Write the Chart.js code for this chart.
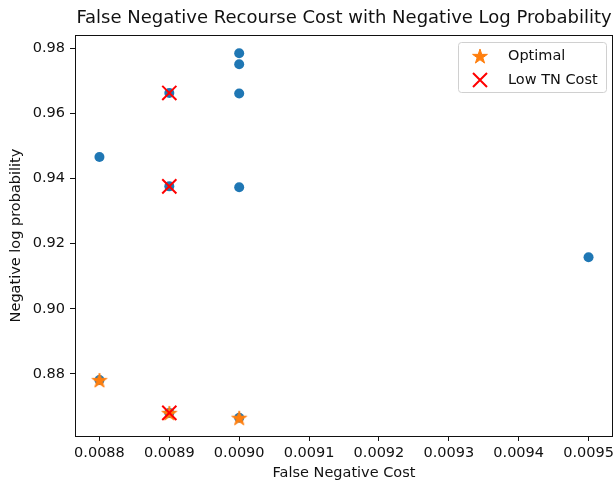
<!DOCTYPE html>
<html>
<head>
<meta charset="utf-8">
<script src="https://cdn.jsdelivr.net/npm/chart.js@4"></script>
<style>
html,body{margin:0;padding:0;background:#fff;}
#wrap{width:616px;height:481px;position:relative;}
</style>
</head>
<body>
<div id="wrap"><canvas id="c" width="616" height="481"></canvas></div>
<script>
// ---- data ----
const allCost = [0.0088, 0.0088, 0.0089, 0.0089, 0.0089, 0.0090, 0.0090, 0.0090, 0.0090, 0.0090, 0.0095];
const allNLP  = [0.9466, 0.8781, 0.9663, 0.9376, 0.8680, 0.9785, 0.9751, 0.9661, 0.9373, 0.8665, 0.9158];
const optimalCost = [0.0088, 0.0089, 0.0090];
const optimalNLP  = [0.8781, 0.8680, 0.8665];
const lowTNCost = [0.0089, 0.0089, 0.0089];
const lowTNNLP  = [0.9663, 0.9376, 0.8680];
const xTickStep = 0.0001;
const yTickStep = 0.02;
const titleText = "False Negative Recourse Cost with Negative Log Probability";
const xLabel = "False Negative Cost";
const yLabel = "Negative log probability";
const legendLabels = ["Optimal", "Low TN Cost"];

const BLUE = '#1f77b4', ORANGE = '#ff7f0e', RED = '#ff0000';
const FONT = "'DejaVu Sans', sans-serif";
const FS = 14.5;

function toPts(xs, ys){ return xs.map((x,i)=>({x:x, y:ys[i]})); }

function makeStar(r, color){
  const s = Math.ceil(r*2+2);
  const cv = document.createElement('canvas');
  cv.width = s; cv.height = s;
  const ctx = cv.getContext('2d');
  const cx = s/2, cy = s/2 + r*0.1, ri = r*0.381966;
  ctx.beginPath();
  for(let i=0;i<10;i++){
    const rr = i%2===0 ? r : ri;
    const a = -Math.PI/2 + i*Math.PI/5;
    const px = cx + rr*Math.cos(a), py = cy + rr*Math.sin(a);
    if(i===0) ctx.moveTo(px,py); else ctx.lineTo(px,py);
  }
  ctx.closePath();
  ctx.fillStyle = color; ctx.fill();
  ctx.strokeStyle = color; ctx.lineWidth = 1; ctx.lineJoin = 'round'; ctx.stroke();
  return cv;
}
const starImg = makeStar(7.8, ORANGE);

const xMin = 0.0088 - 0.000035, xMax = 0.0095 + 0.000035;
const yLo = Math.min(...allNLP), yHi = Math.max(...allNLP);
const yPad = (yHi - yLo)*0.05;

function zeroPad(s){
  s.paddingLeft = 0; s.paddingRight = 0; s.paddingTop = 0; s.paddingBottom = 0;
}

const framePlugin = {
  id:'frame',
  afterDraw(chart){
    const ctx = chart.ctx, a = chart.chartArea;
    ctx.save();
    ctx.strokeStyle = '#111'; ctx.lineWidth = 1;
    ctx.strokeRect(Math.round(a.left)+0.5, Math.round(a.top)+0.5, Math.round(a.right-a.left)-1, Math.round(a.bottom-a.top));
    // title
    ctx.fillStyle = '#111';
    ctx.font = "18px " + FONT;
    ctx.textAlign = 'center'; ctx.textBaseline = 'middle';
    ctx.fillText(titleText, (a.left+a.right)/2, 18);
    // legend
    const bx = 458, by = 42, bw = 148, bh = 50;
    ctx.beginPath();
    if (ctx.roundRect) ctx.roundRect(bx+0.5, by+0.5, bw, bh, 3); else ctx.rect(bx+0.5, by+0.5, bw, bh);
    ctx.fillStyle = 'rgba(255,255,255,0.8)'; ctx.fill();
    ctx.strokeStyle = '#d0d0d0'; ctx.stroke();
    ctx.drawImage(starImg, 480 - starImg.width/2, 56 - starImg.height/2);
    ctx.strokeStyle = RED; ctx.lineWidth = 2;
    ctx.beginPath();
    ctx.moveTo(473, 73); ctx.lineTo(487, 87);
    ctx.moveTo(487, 73); ctx.lineTo(473, 87);
    ctx.stroke();
    ctx.fillStyle = '#111';
    ctx.font = FS + "px " + FONT;
    ctx.textAlign = 'left';
    ctx.fillText(legendLabels[0], 508, 56);
    ctx.fillText(legendLabels[1], 508, 80);
    ctx.restore();
  }
};

new Chart(document.getElementById('c'), {
  type:'scatter',
  data:{
    datasets:[
      {label:'all', data:toPts(allCost, allNLP), backgroundColor:BLUE, borderColor:BLUE, pointRadius:5, pointHoverRadius:5, borderWidth:0, order:3},
      {label:legendLabels[0], data:toPts(optimalCost, optimalNLP), pointStyle:starImg, pointRadius:8, order:2},
      {label:legendLabels[1], data:toPts(lowTNCost, lowTNNLP), pointStyle:'crossRot', borderColor:RED, backgroundColor:RED, pointRadius:10, pointBorderWidth:2, pointHoverRadius:10, order:1}
    ]
  },
  options:{
    responsive:false,
    animation:false,
    events:[],
    layout:{autoPadding:false, padding:{left:0,right:3,top:35,bottom:0}},
    plugins:{legend:{display:false}, tooltip:{enabled:false}, title:{display:false}},
    scales:{
      x:{
        type:'linear', min:xMin, max:xMax,
        afterFit(s){ s.height = 45; zeroPad(s); },
        grid:{display:true, drawOnChartArea:false, tickLength:5, color:'#111'},
        border:{display:false},
        ticks:{stepSize:xTickStep, includeBounds:false, color:'#111', font:{family:FONT, size:FS}, padding:4,
          callback:(v)=>v.toFixed(4), maxRotation:0, autoSkip:false},
        title:{display:true, text:xLabel, color:'#111', font:{family:FONT, size:FS}, padding:{top:0,bottom:-1}}
      },
      y:{
        type:'linear', min:yLo-yPad, max:yHi+yPad,
        afterFit(s){ s.width = 75; zeroPad(s); },
        grid:{display:true, drawOnChartArea:false, tickLength:5, color:'#111'},
        border:{display:false},
        ticks:{stepSize:yTickStep, includeBounds:false, color:'#111', font:{family:FONT, size:FS}, padding:5,
          callback:(v)=>v.toFixed(2), autoSkip:false},
        title:{display:true, text:yLabel, color:'#111', font:{family:FONT, size:FS}, padding:{top:8,bottom:0}}
      }
    }
  },
  plugins:[framePlugin]
});
</script>
</body>
</html>
